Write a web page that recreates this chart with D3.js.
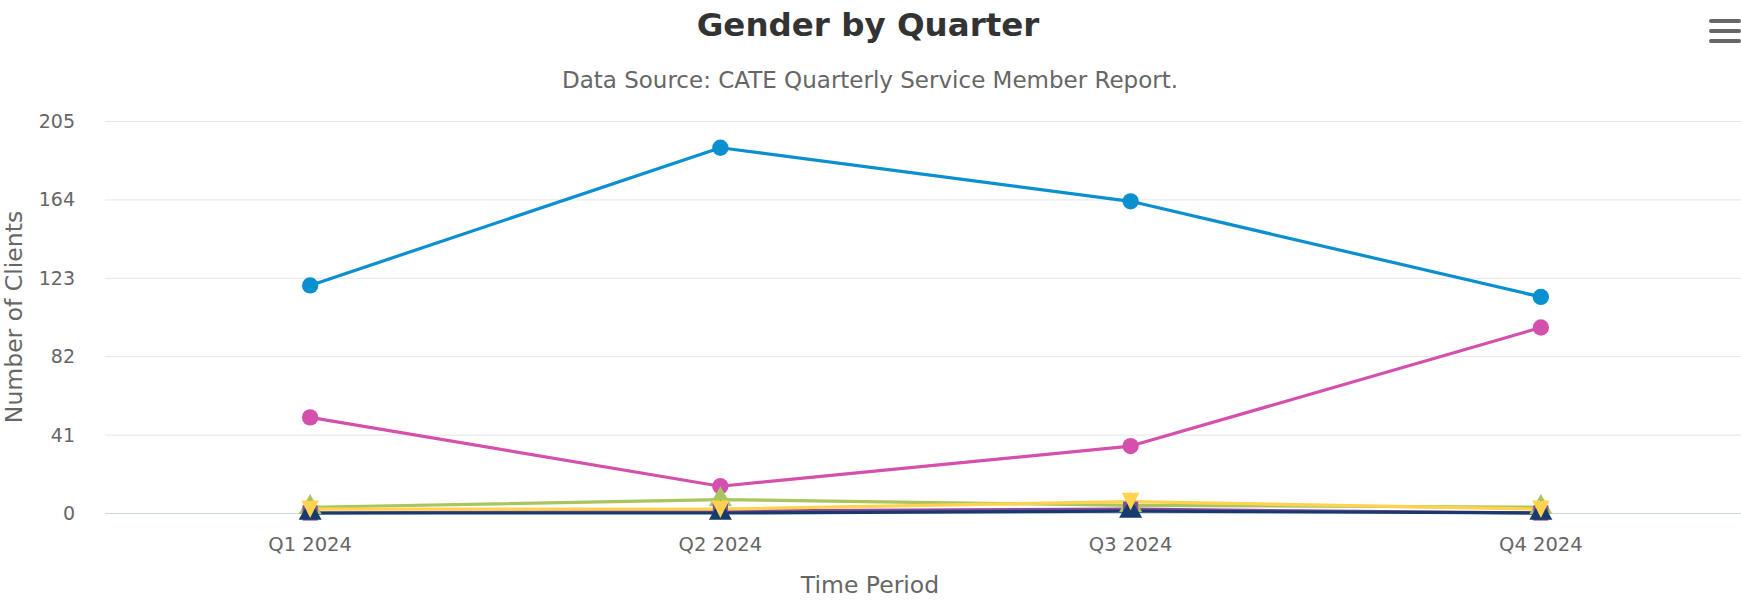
<!DOCTYPE html>
<html>
<head>
<meta charset="utf-8">
<script src="https://cdn.jsdelivr.net/npm/d3@7"></script>
<style>
  body { margin: 0; background: #fff; }
  svg { display: block; font-family: "DejaVu Sans", sans-serif; }
</style>
</head>
<body>
<div id="chart"></div>
<script>
'use strict';

const quarters = ['Q1 2024', 'Q2 2024', 'Q3 2024', 'Q4 2024'];
const yTicks = [0, 41, 82, 123, 164, 205];

const blueValues = [119, 191, 163, 113];
const pinkValues = [50, 14, 35, 97];
const greenValues = [3, 7, 4, 3];
const purpleValues = [0, 1, 2, 0];
const navyValues = [0, 0, 1, 0];
const yellowValues = [2, 2, 6, 2];

const series = [
  { values: blueValues, color: '#0a8fcf', symbol: d3.symbolCircle },
  { values: pinkValues, color: '#d550ac', symbol: d3.symbolCircle },
  { values: greenValues, color: '#aac560', symbol: d3.symbolTriangle },
  { values: purpleValues, color: '#8a4a9c', symbol: d3.symbolSquare },
  { values: navyValues, color: '#173a6f', symbol: d3.symbolTriangle },
  { values: yellowValues, color: '#ffd34e', symbol: 'down' }
];

const width = 1741;
const height = 602;
const plotLeft = 105;
const plotRight = 1746;
const plotTop = 121;
const plotBottom = 513;

const svg = d3.select('#chart')
  .append('svg')
  .attr('width', width)
  .attr('height', height);

const x = d3.scaleBand()
  .domain(quarters)
  .range([plotLeft, plotRight]);

const y = d3.scaleLinear()
  .domain([0, 205])
  .range([plotBottom, plotTop]);

// grid
svg.append('g')
  .selectAll('line')
  .data(yTicks.filter(d => d > 0))
  .enter()
  .append('line')
  .attr('x1', plotLeft)
  .attr('x2', width)
  .attr('y1', d => y(d) + 0.5)
  .attr('y2', d => y(d) + 0.5)
  .attr('stroke', '#e6e6e6')
  .attr('stroke-width', 1);

svg.append('line')
  .attr('x1', plotLeft)
  .attr('x2', width)
  .attr('y1', y(0) + 0.5)
  .attr('y2', y(0) + 0.5)
  .attr('stroke', '#ccd6eb')
  .attr('stroke-width', 1);

// y tick labels
svg.append('g')
  .selectAll('text')
  .data(yTicks)
  .enter()
  .append('text')
  .attr('x', 75)
  .attr('y', d => y(d) + 7)
  .attr('text-anchor', 'end')
  .attr('font-size', 19)
  .attr('fill', '#666')
  .text(d => d);

// x tick labels
svg.append('g')
  .selectAll('text')
  .data(quarters)
  .enter()
  .append('text')
  .attr('x', d => x(d) + x.bandwidth() / 2)
  .attr('y', 551)
  .attr('text-anchor', 'middle')
  .attr('font-size', 19.5)
  .attr('fill', '#666')
  .text(d => d);

// axis titles
svg.append('text')
  .attr('x', 870)
  .attr('y', 593)
  .attr('text-anchor', 'middle')
  .attr('font-size', 23.5)
  .attr('fill', '#666')
  .text('Time Period');

svg.append('text')
  .attr('transform', 'translate(22,' + ((plotTop + plotBottom) / 2) + ') rotate(-90)')
  .attr('text-anchor', 'middle')
  .attr('font-size', 23.5)
  .attr('fill', '#666')
  .text('Number of Clients');

// title + subtitle
svg.append('text')
  .attr('x', 868)
  .attr('y', 36)
  .attr('text-anchor', 'middle')
  .attr('font-size', 32.5)
  .attr('font-weight', 'bold')
  .attr('fill', '#333')
  .text('Gender by Quarter');

svg.append('text')
  .attr('x', 870)
  .attr('y', 88)
  .attr('text-anchor', 'middle')
  .attr('font-size', 23)
  .attr('fill', '#666')
  .text('Data Source: CATE Quarterly Service Member Report.');

// menu icon
svg.append('g')
  .selectAll('line')
  .data([21, 31, 41])
  .enter()
  .append('line')
  .attr('x1', 1711)
  .attr('x2', 1739)
  .attr('y1', d => d)
  .attr('y2', d => d)
  .attr('stroke', '#666')
  .attr('stroke-width', 4)
  .attr('stroke-linecap', 'round');

const line = d3.line()
  .x((d, i) => x(quarters[i]) + x.bandwidth() / 2)
  .y(d => y(d));

const triDown = {
  draw(ctx, size) {
    const s = Math.sqrt(size) * 1.15;
    ctx.moveTo(-s / 2, -s / 2);
    ctx.lineTo(s / 2, -s / 2);
    ctx.lineTo(0, s / 2);
    ctx.closePath();
  }
};

// lines first, then markers
const lines = svg.append('g');
const markers = svg.append('g');

series.forEach(s => {
  lines.append('path')
    .datum(s.values)
    .attr('d', line)
    .attr('fill', 'none')
    .attr('stroke', s.color)
    .attr('stroke-width', 3.2)
    .attr('stroke-linejoin', 'round');
});

series.forEach(s => {
  const sym = s.symbol === 'down' ? triDown : s.symbol;
  const size = s.symbol === d3.symbolCircle ? 210 : 230;
  markers.append('g')
    .selectAll('path')
    .data(s.values)
    .enter()
    .append('path')
    .attr('transform', (d, i) => 'translate(' + (x(quarters[i]) + x.bandwidth() / 2) + ',' + y(d) + ')')
    .attr('d', d3.symbol().type(sym).size(size))
    .attr('fill', s.color);
});
</script>
</body>
</html>
